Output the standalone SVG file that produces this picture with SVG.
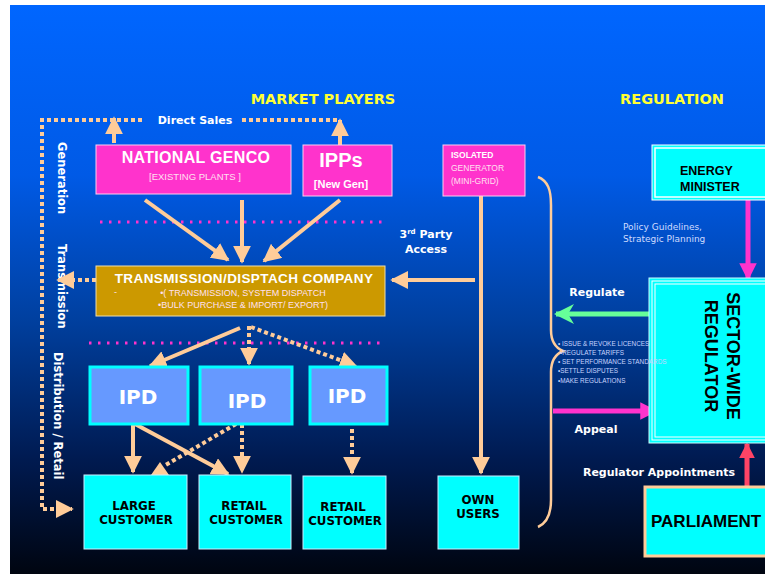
<svg xmlns="http://www.w3.org/2000/svg" width="765" height="574" viewBox="0 0 765 574">
<defs>
<linearGradient id="bg" x1="0" y1="0" x2="0" y2="1">
<stop offset="0" stop-color="#0066ff"/>
<stop offset="0.3" stop-color="#005ae6"/>
<stop offset="0.55" stop-color="#0040a0"/>
<stop offset="0.8" stop-color="#001a50"/>
<stop offset="1" stop-color="#000510"/>
</linearGradient>
<marker id="pa" viewBox="0 0 10 10" refX="9" refY="5" markerWidth="4.5" markerHeight="4.5" orient="auto" markerUnits="strokeWidth"><path d="M0,0 L10,5 L0,10 z" fill="#ffcc99"/></marker>
<marker id="pd" viewBox="0 0 10 10" refX="9" refY="5" markerWidth="4.5" markerHeight="4.5" orient="auto" markerUnits="strokeWidth"><path d="M0,0 L10,5 L0,10 z" fill="#ffcc99"/></marker>
<marker id="mk" viewBox="0 0 10 10" refX="9" refY="5" markerWidth="4" markerHeight="3.5" orient="auto" markerUnits="strokeWidth"><path d="M0,0 L10,5 L0,10 z" fill="#ff33cc"/></marker>
<marker id="gr" viewBox="0 0 10 10" refX="9" refY="5" markerWidth="4" markerHeight="5" orient="auto" markerUnits="strokeWidth"><path d="M0,0 L10,5 L0,10 L3,5 z" fill="#66ff99"/></marker>
<marker id="rd" viewBox="0 0 10 10" refX="9" refY="5" markerWidth="3.2" markerHeight="3.2" orient="auto" markerUnits="strokeWidth"><path d="M0,0 L10,5 L0,10 z" fill="#ff4466"/></marker>
</defs>
<style>
.ln{stroke:#ffcc99;stroke-width:4;fill:none}
.dt{stroke:#ffcc99;stroke-width:4;fill:none;stroke-dasharray:4 3}
.pdt{stroke:#ff33cc;stroke-width:3;fill:none;stroke-dasharray:2.5 6.5}
.pink{fill:#ff33cc;stroke:#ffccee;stroke-width:1}
.ipd{fill:#6699ff;stroke:#00ffff;stroke-width:3}
.cust{fill:#00ffff;stroke:#cceeff;stroke-width:1}
.f{font-family:"Liberation Sans",Arial,sans-serif}
.fv{font-family:"DejaVu Sans",Verdana,sans-serif}
.hd{fill:#ffff33;font-weight:bold;font-size:14.5px}
.wb{fill:#ffffff;font-weight:bold}
.kb{fill:#000000;font-weight:bold}
.lt{fill:#ffe0f0}
</style>
<rect x="0" y="0" width="765" height="574" fill="#ffffff"/>
<rect x="10" y="5" width="755" height="569" fill="url(#bg)"/>

<text class="fv hd" x="323" y="104" text-anchor="middle">MARKET PLAYERS</text>
<text class="fv hd" x="672" y="104" text-anchor="middle">REGULATION</text>

<g id="side-labels">
<text class="fv wb" font-size="11.5" transform="translate(58,142) rotate(90)">Generation</text>
<text class="fv wb" font-size="11.5" transform="translate(58,244) rotate(90)">Transmission</text>
<text class="fv wb" font-size="11.5" transform="translate(54,352) rotate(90)">Distribution / Retail</text>
</g>

<g id="connectors">
<path class="dt" d="M142,120 H42 V509 H72" marker-end="url(#pd)"/>
<path class="dt" d="M242,120 H340"/>
<text class="fv wb" font-size="11" x="195" y="124" text-anchor="middle">Direct Sales</text>
<path class="ln" d="M114,143 V118" marker-end="url(#pa)"/>
<path class="ln" d="M340,148 V120" marker-end="url(#pa)"/>
<path class="pdt" d="M100,222 H384"/>
<path class="ln" d="M145,200 L228,260" marker-end="url(#pa)"/>
<path class="ln" d="M242,200 V262" marker-end="url(#pa)"/>
<path class="ln" d="M340,200 L264,261" marker-end="url(#pa)"/>
<path class="dt" d="M96,280 H58" marker-end="url(#pd)"/>
<path class="ln" d="M475,280 H392" marker-end="url(#pa)"/>
<path class="ln" d="M481,196 V473" marker-end="url(#pa)"/>
<path class="pdt" d="M89,343 H386"/>
<path class="ln" d="M240,328 L150,366" marker-end="url(#pa)"/>
<path class="dt" d="M249,326 V364" marker-end="url(#pd)"/>
<path class="dt" d="M251,327 L356,366" marker-end="url(#pd)"/>
<path class="ln" d="M133,424 V472" marker-end="url(#pa)"/>
<path class="ln" d="M135,424 L228,474" marker-end="url(#pa)"/>
<path class="dt" d="M236,424 L164,466"/>
<polygon points="160,462 151,475 169,475" fill="#ffcc99"/>
<path class="dt" d="M242,424 V472" marker-end="url(#pd)"/>
<path class="dt" d="M352,429 V473" marker-end="url(#pd)"/>
<path d="M538,177 C548,181 551,190 551,205 V330 C551,342 556,348 563,351 C556,354 551,360 551,372 V500 C551,515 547,523 538,527" stroke="#ffcc99" stroke-width="2.5" fill="none"/>
<path d="M652,314 H556" stroke="#66ff99" stroke-width="5" fill="none" marker-end="url(#gr)"/>
<text class="fv wb" font-size="11" x="597" y="296" text-anchor="middle">Regulate</text>
<path d="M553,411 H656" stroke="#ff33cc" stroke-width="5" fill="none" marker-end="url(#mk)"/>
<text class="fv wb" font-size="11" x="596" y="433" text-anchor="middle">Appeal</text>
<path d="M748,200 V279" stroke="#ff33cc" stroke-width="5" fill="none" marker-end="url(#mk)"/>
<path d="M747,487 V444" stroke="#ff4466" stroke-width="5" fill="none" marker-end="url(#rd)"/>
<text class="fv wb" font-size="11" x="659" y="476" text-anchor="middle">Regulator Appointments</text>
<text class="fv" font-size="9" fill="#d0dcff" x="623" y="230">Policy Guidelines,</text>
<text class="fv" font-size="9" fill="#d0dcff" x="623" y="242">Strategic Planning</text>
<text class="fv wb" font-size="11" x="426" y="238" text-anchor="middle">3<tspan font-size="7" dy="-4">rd</tspan><tspan dy="4"> Party</tspan></text>
<text class="fv wb" font-size="11" x="426" y="253" text-anchor="middle">Access</text>
</g>

<g id="national-genco">
<rect class="pink" x="96" y="145" width="195" height="49"/>
<text class="f wb" font-size="16" letter-spacing="0.3" x="196" y="163" text-anchor="middle">NATIONAL GENCO</text>
<text class="f lt" font-size="9.5" x="195" y="180" text-anchor="middle">[EXISTING  PLANTS ]</text>
</g>
<g id="ipps">
<rect class="pink" x="303" y="145" width="89" height="51"/>
<text class="f wb" font-size="20" x="341" y="167" text-anchor="middle">IPPs</text>
<text class="f wb" font-size="11" x="341" y="188" text-anchor="middle">[New Gen]</text>
</g>
<g id="isolated-generator">
<rect class="pink" x="443" y="145" width="82" height="51"/>
<text class="f wb" font-size="8.5" x="451" y="158">ISOLATED</text>
<text class="f lt" font-size="8.5" x="451" y="171">GENERATOR</text>
<text class="f lt" font-size="8.5" x="451" y="184">(MINI-GRID)</text>
</g>
<g id="transmission">
<rect x="96" y="266" width="289" height="50" fill="#cc9900" stroke="#eeddaa" stroke-width="1"/>
<text class="f wb" font-size="13.5" letter-spacing="0.4" x="244" y="282.5" text-anchor="middle">TRANSMISSION/DISPTACH  COMPANY</text>
<text class="f lt" font-size="9" x="114" y="295">-</text>
<text class="f lt" font-size="9" x="243" y="295.5" text-anchor="middle">•( TRANSMISSION, SYSTEM DISPATCH</text>
<text class="f lt" font-size="9" x="243" y="307.5" text-anchor="middle">•BULK PURCHASE &amp; IMPORT/ EXPORT)</text>
</g>
<g id="ipd1">
<rect class="ipd" x="90" y="367" width="98" height="57"/>
<text class="fv wb" font-size="20" x="138" y="404" text-anchor="middle">IPD</text>
</g>
<g id="ipd2">
<rect class="ipd" x="200" y="367" width="92" height="57"/>
<text class="fv wb" font-size="20" x="247" y="408" text-anchor="middle">IPD</text>
</g>
<g id="ipd3">
<rect class="ipd" x="310" y="367" width="77" height="57"/>
<text class="fv wb" font-size="20" x="347" y="403" text-anchor="middle">IPD</text>
</g>
<g id="large-customer">
<rect class="cust" x="84" y="475" width="103" height="74"/>
<text class="fv kb" font-size="11.8" x="134" y="510" text-anchor="middle">LARGE</text>
<text class="fv kb" font-size="11.8" x="136" y="524" text-anchor="middle">CUSTOMER</text>
</g>
<g id="retail-customer-1">
<rect class="cust" x="199" y="475" width="92" height="74"/>
<text class="fv kb" font-size="11.8" x="244" y="510" text-anchor="middle">RETAIL</text>
<text class="fv kb" font-size="11.8" x="246" y="524" text-anchor="middle">CUSTOMER</text>
</g>
<g id="retail-customer-2">
<rect class="cust" x="303" y="476" width="83" height="73"/>
<text class="fv kb" font-size="11.8" x="343" y="511" text-anchor="middle">RETAIL</text>
<text class="fv kb" font-size="11.8" x="345" y="525" text-anchor="middle">CUSTOMER</text>
</g>
<g id="own-users">
<rect class="cust" x="438" y="476" width="81" height="73"/>
<text class="fv kb" font-size="11.8" x="478" y="504" text-anchor="middle">OWN</text>
<text class="fv kb" font-size="11.8" x="478" y="518" text-anchor="middle">USERS</text>
</g>
<g id="energy-minister">
<rect x="652" y="145" width="118" height="55" fill="#00ffff" stroke="#ffffff" stroke-width="1"/>
<rect x="655" y="148" width="115" height="49" fill="none" stroke="#ffffff" stroke-width="1.5"/>
<text class="f kb" font-size="12.5" x="680" y="175">ENERGY</text>
<text class="f kb" font-size="12.5" x="680" y="191">MINISTER</text>
</g>
<g id="sector-wide-regulator">
<rect x="649" y="278" width="121" height="165" fill="#00ffff" stroke="#ccffff" stroke-width="1"/>
<rect x="652" y="281" width="118" height="159" fill="none" stroke="#ffffff" stroke-width="1"/>
<rect x="655" y="284" width="115" height="153" fill="none" stroke="#ffffff" stroke-width="1"/>
<text class="f kb" font-size="18" transform="translate(727,356) rotate(90)" text-anchor="middle">SECTOR-WIDE</text>
<text class="f kb" font-size="18" transform="translate(705,356) rotate(90)" text-anchor="middle">REGULATOR</text>
</g>
<g id="parliament">
<rect x="645" y="487" width="125" height="69" fill="#00ffff" stroke="#ffcc99" stroke-width="3"/>
<text class="f kb" font-size="17" x="651" y="527">PARLIAMENT</text>
</g>
<g id="regulator-duties" class="f" font-size="6.4" fill="#c8d4ff">
<text x="558" y="346">• ISSUE &amp; REVOKE LICENCES</text>
<text x="560" y="355">•REGULATE TARIFFS</text>
<text x="558" y="364">• SET PERFORMANCE STANDARDS</text>
<text x="558" y="373">•SETTLE DISPUTES</text>
<text x="558" y="383">•MAKE REGULATIONS</text>
</g>
</svg>
